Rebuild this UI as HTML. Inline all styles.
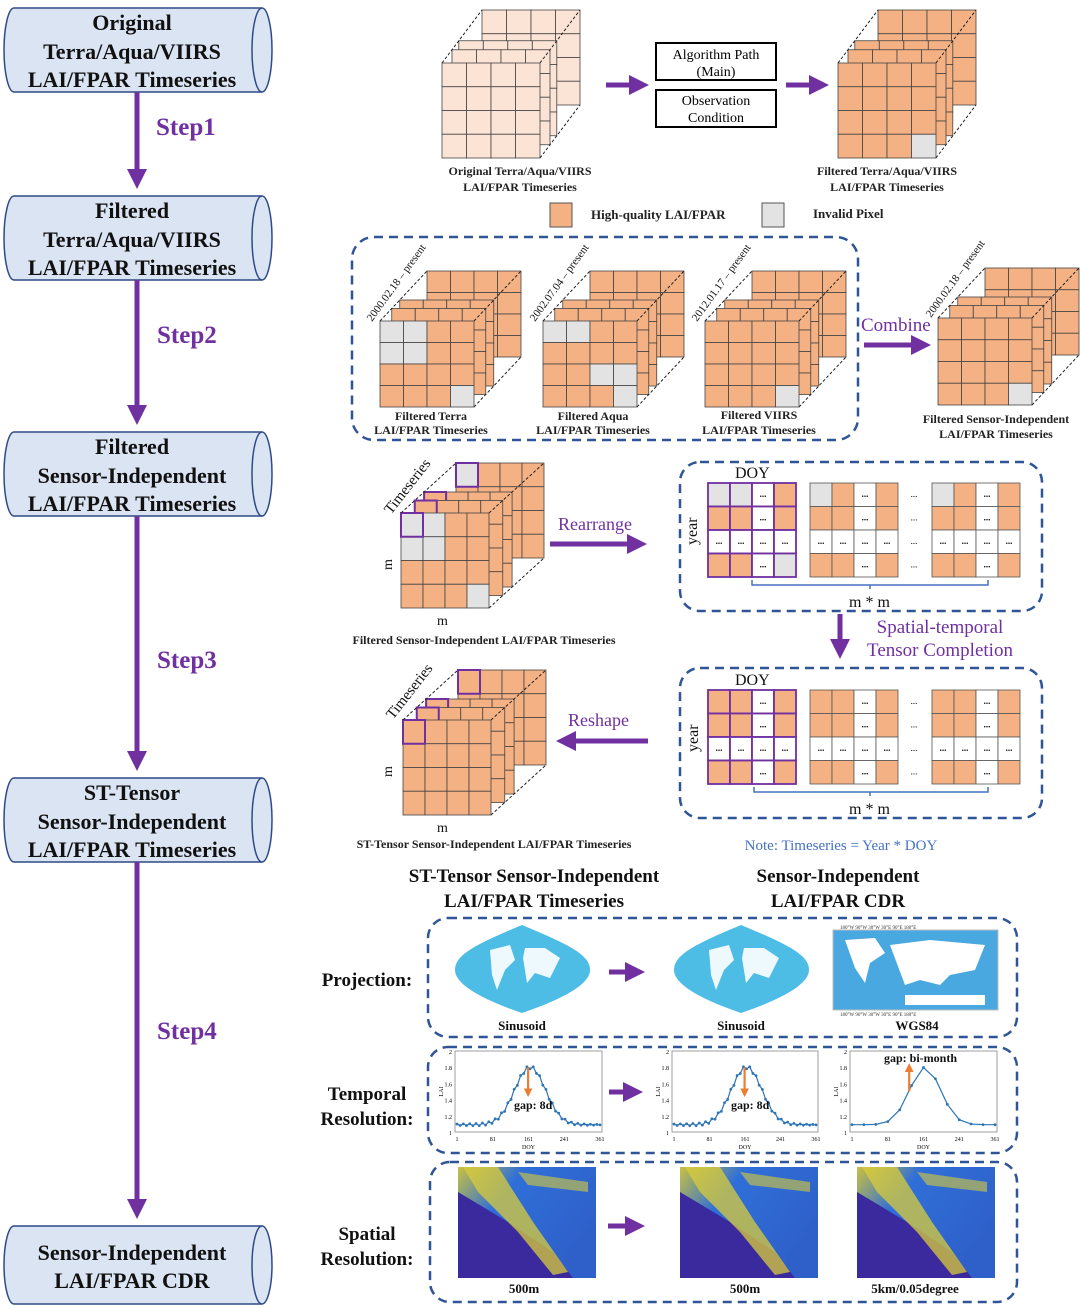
<!DOCTYPE html>
<html><head><meta charset="utf-8"><style>
html,body{margin:0;padding:0;background:#fff}
svg{display:block}
text{font-family:"Liberation Serif",serif}
</style></head><body>
<svg id="s" width="1080" height="1308" viewBox="0 0 1080 1308" xmlns="http://www.w3.org/2000/svg">
<defs>
<marker id="ap" markerWidth="4" markerHeight="4" refX="2.2" refY="2" orient="auto"><path d="M0,0 L4,2 L0,4 Z" fill="#7030a0"/></marker>
<marker id="ao" markerWidth="4" markerHeight="4" refX="2.2" refY="2" orient="auto"><path d="M0,0 L4,2 L0,4 Z" fill="#ed7d31"/></marker>
<linearGradient id="sp" x1="0" y1="0" x2="1" y2="0.6"><stop offset="0" stop-color="#c8c040"/><stop offset="0.35" stop-color="#2f6fd8"/><stop offset="1" stop-color="#2f5fc8"/></linearGradient>
</defs>
<g id="cyl"></g>
<g stroke="#7030a0" stroke-width="5" fill="none">
<line x1="137" y1="92" x2="137" y2="180" marker-end="url(#ap)"/>
<line x1="137" y1="280" x2="137" y2="416" marker-end="url(#ap)"/>
<line x1="137" y1="516" x2="137" y2="762" marker-end="url(#ap)"/>
<line x1="137" y1="862" x2="137" y2="1210" marker-end="url(#ap)"/>
</g>
<g fill="#7030a0" font-size="25">
<text x="156" y="135" font-weight="bold">Step1</text>
<text x="157" y="343" font-weight="bold">Step2</text>
<text x="157" y="668" font-weight="bold">Step3</text>
<text x="157" y="1039" font-weight="bold">Step4</text>
</g>
<g font-size="22" font-weight="bold" fill="#111" text-anchor="middle">
<text x="132" y="30">Original</text><text x="132" y="59">Terra/Aqua/VIIRS</text><text x="132" y="87">LAI/FPAR Timeseries</text>
<text x="132" y="218">Filtered</text><text x="132" y="247">Terra/Aqua/VIIRS</text><text x="132" y="275">LAI/FPAR Timeseries</text>
<text x="132" y="454">Filtered</text><text x="132" y="483">Sensor-Independent</text><text x="132" y="511">LAI/FPAR Timeseries</text>
<text x="132" y="800">ST-Tensor</text><text x="132" y="829">Sensor-Independent</text><text x="132" y="857">LAI/FPAR Timeseries</text>
<text x="132" y="1260">Sensor-Independent</text><text x="132" y="1288">LAI/FPAR CDR</text>
</g>
<g id="dyn"></g>
<rect x="656" y="43" width="120" height="37" fill="#fff" stroke="#000" stroke-width="2"/>
<rect x="656" y="90" width="120" height="37" fill="#fff" stroke="#000" stroke-width="2"/>
<g font-size="14" text-anchor="middle" fill="#000">
<text x="716" y="59">Algorithm Path</text><text x="716" y="76">(Main)</text>
<text x="716" y="105">Observation</text><text x="716" y="122">Condition</text>
</g>
<g stroke="#7030a0" stroke-width="5"><line x1="606" y1="85" x2="640" y2="85" marker-end="url(#ap)"/><line x1="786" y1="85" x2="820" y2="85" marker-end="url(#ap)"/></g>
<g font-size="12" font-weight="bold" text-anchor="middle" fill="#222">
<text x="520" y="175">Original Terra/Aqua/VIIRS</text><text x="520" y="191">LAI/FPAR Timeseries</text>
<text x="887" y="175">Filtered Terra/Aqua/VIIRS</text><text x="887" y="191">LAI/FPAR Timeseries</text>
<text x="431" y="420">Filtered Terra</text><text x="431" y="434">LAI/FPAR Timeseries</text>
<text x="593" y="420">Filtered Aqua</text><text x="593" y="434">LAI/FPAR Timeseries</text>
<text x="759" y="419">Filtered VIIRS</text><text x="759" y="434">LAI/FPAR Timeseries</text>
<text x="996" y="423">Filtered Sensor-Independent</text><text x="996" y="438">LAI/FPAR Timeseries</text>
<text x="484" y="644">Filtered Sensor-Independent LAI/FPAR Timeseries</text>
<text x="494" y="848">ST-Tensor Sensor-Independent LAI/FPAR Timeseries</text>
</g>
<rect x="550" y="203" width="22" height="24" fill="#f4b183" stroke="#555"/>
<rect x="762" y="203" width="22" height="24" fill="#e3e3e3" stroke="#555"/>
<g font-size="13" font-weight="bold" fill="#222"><text x="591" y="219">High-quality LAI/FPAR</text><text x="813" y="218">Invalid Pixel</text></g>
<rect x="352" y="237" width="506" height="203" rx="22" fill="none" stroke="#2f5597" stroke-width="2.5" stroke-dasharray="9,6"/>
<text x="861" y="331" font-size="19" fill="#7030a0">Combine</text>
<line x1="864" y1="345" x2="922" y2="345" stroke="#7030a0" stroke-width="5" marker-end="url(#ap)"/>
<g font-size="11" fill="#111">
<text transform="translate(372,322) rotate(-54)">2000.02.18 – present</text>
<text transform="translate(535,322) rotate(-54)">2002.07.04 – present</text>
<text transform="translate(697,322) rotate(-54)">2012.01.17 – present</text>
<text transform="translate(931,318) rotate(-54)">2000.02.18 – present</text>
<text transform="translate(391,515) rotate(-52)" font-size="15">Timeseries</text>
<text transform="translate(393,720) rotate(-52)" font-size="15">Timeseries</text>
</g>
<g font-size="14" fill="#111">
<text x="437" y="625">m</text><text transform="translate(392,570) rotate(-90)">m</text>
<text x="437" y="832">m</text><text transform="translate(392,777) rotate(-90)">m</text>
</g>
<rect x="680" y="462" width="362" height="149" rx="20" fill="none" stroke="#2f5597" stroke-width="2.5" stroke-dasharray="9,6"/>
<rect x="680" y="668" width="362" height="150" rx="20" fill="none" stroke="#2f5597" stroke-width="2.5" stroke-dasharray="9,6"/>
<g font-size="16" fill="#111"><text x="735" y="478">DOY</text><text x="735" y="685">DOY</text>
<text transform="translate(697,545) rotate(-90)">year</text><text transform="translate(698,752) rotate(-90)">year</text>
<text x="849" y="607">m * m</text><text x="849" y="814">m * m</text></g>
<g fill="none" stroke="#4472c4" stroke-width="1.5">
<path d="M752,580 v5 h236 v-5 M870,585 v4"/><path d="M754,787 v5 h234 v-5 M870,792 v4"/></g>
<text x="558" y="530" font-size="18" fill="#7030a0">Rearrange</text>
<line x1="550" y1="544" x2="638" y2="544" stroke="#7030a0" stroke-width="5" marker-end="url(#ap)"/>
<line x1="840" y1="614" x2="840" y2="650" stroke="#7030a0" stroke-width="5" marker-end="url(#ap)"/>
<g font-size="19" fill="#7030a0" text-anchor="middle"><text x="940" y="633">Spatial-temporal</text><text x="940" y="656">Tensor Completion</text></g>
<text x="568" y="726" font-size="18" fill="#7030a0">Reshape</text>
<line x1="648" y1="741" x2="565" y2="741" stroke="#7030a0" stroke-width="5" marker-end="url(#ap)"/>
<text x="841" y="850" font-size="15" fill="#4472c4" text-anchor="middle">Note: Timeseries = Year * DOY</text>
<g font-size="19" font-weight="bold" fill="#111" text-anchor="middle">
<text x="534" y="882">ST-Tensor Sensor-Independent</text><text x="534" y="907">LAI/FPAR Timeseries</text>
<text x="838" y="882">Sensor-Independent</text><text x="838" y="907">LAI/FPAR CDR</text>
<text x="367" y="986">Projection:</text>
<text x="367" y="1100">Temporal</text><text x="367" y="1125">Resolution:</text>
<text x="367" y="1240">Spatial</text><text x="367" y="1265">Resolution:</text>
</g>
<g fill="none" stroke="#2f5597" stroke-width="2.5" stroke-dasharray="9,6">
<rect x="428" y="918" width="589" height="119" rx="20"/>
<rect x="428" y="1047" width="589" height="106" rx="20"/>
<rect x="430" y="1162" width="587" height="140" rx="20"/>
</g>
<path d="M522,925 C570,945 590,955 590,970 C590,985 560,1000 522,1013 C484,1000 455,985 455,970 C455,955 474,945 522,925Z" fill="#4dbde6"/>
<path d="M741,925 C789,945 809,955 809,970 C809,985 779,1000 741,1013 C703,1000 674,985 674,970 C674,955 693,945 741,925Z" fill="#4dbde6"/>
<g fill="#fff" opacity="0.9">
<path d="M490,950 l20,-5 5,15 -10,10 -8,20 -5,-15z M525,948 l20,0 15,10 -10,20 -15,-5 -8,10 -4,-25z"/>
<path d="M709,950 l20,-5 5,15 -10,10 -8,20 -5,-15z M744,948 l20,0 15,10 -10,20 -15,-5 -8,10 -4,-25z"/>
</g>
<rect x="833" y="930" width="165" height="80" fill="#4aa8e0" stroke="#bbb"/>
<g fill="#fff"><path d="M845,940 l30,-2 10,15 -15,10 -5,20 -10,-15z M890,945 l40,-5 55,5 -10,25 -25,5 -10,10 -20,-5 -15,5z M905,995 h80 v10 h-80z"/></g>
<g font-size="5" fill="#333"><text x="840" y="929">180°W  90°W  30°W  30°E  90°E  180°E</text><text x="840" y="1016">180°W  90°W  30°W  30°E  90°E  180°E</text></g>
<g font-size="13" font-weight="bold" fill="#111" text-anchor="middle"><text x="522" y="1030">Sinusoid</text><text x="741" y="1030">Sinusoid</text><text x="917" y="1030">WGS84</text>
<text x="524" y="1293">500m</text><text x="745" y="1293">500m</text><text x="915" y="1293">5km/0.05degree</text></g>
<g stroke="#7030a0" stroke-width="5"><line x1="609" y1="972" x2="636" y2="972" marker-end="url(#ap)"/><line x1="609" y1="1092" x2="634" y2="1092" marker-end="url(#ap)"/><line x1="608" y1="1226" x2="636" y2="1226" marker-end="url(#ap)"/></g>
<g id="sat"></g>
<g id="charts"></g>
<g font-size="12" font-weight="bold" fill="#111"><text x="514" y="1109">gap: 8d</text><text x="731" y="1109">gap: 8d</text><text x="884" y="1062">gap: bi-month</text></g>
</svg>
<script>
const NS="http://www.w3.org/2000/svg",d=document.getElementById('dyn');
function el(t,a,p){const e=document.createElementNS(NS,t);for(const k in a)e.setAttribute(k,a[k]);(p||d).appendChild(e);return e;}
[[8,92],[196,280],[432,516],[778,862],[1226,1304]].forEach(([a,b])=>{const g=document.getElementById('cyl');
el('path',{d:`M14,${a} H262 A10,${(b-a)/2} 0 0 1 262,${b} H14 A10,${(b-a)/2} 0 0 1 14,${a}Z`,fill:'#dbe4f3',stroke:'#2f4a85','stroke-width':1.5},g);
el('path',{d:`M262,${a} A10,${(b-a)/2} 0 0 0 262,${b}`,fill:'none',stroke:'#2f4a85','stroke-width':1.5},g);});
const OR='#f4b183',GR='#e3e3e3';
function grid(x,y,w,h,fill,gr,pur){const cw=w/4,ch=h/4;
for(let r=0;r<4;r++)for(let c=0;c<4;c++){el('rect',{x:x+c*cw,y:y+r*ch,width:cw,height:ch,fill:gr.some(g=>g[0]==r&&g[1]==c)?GR:fill,stroke:'#444','stroke-width':0.8});}
if(pur)el('rect',{x:x,y:y,width:cw,height:ch,fill:'none',stroke:'#7030a0','stroke-width':2});}
function cube(x,y,w,h,dx,dy,fill,gr,pur,bgr){
[[1,bgr||[]],[0.42,[]],[0.25,[]],[0,gr]].forEach(([t,g])=>grid(x+dx*t,y+dy*t,w,h,fill,g,pur));
el('line',{x1:x,y1:y,x2:x+dx,y2:y+dy,stroke:'#222','stroke-dasharray':'3,2'});
el('line',{x1:x+w,y1:y,x2:x+w+dx,y2:y+dy,stroke:'#222','stroke-dasharray':'3,2'});
el('line',{x1:x+w,y1:y+h,x2:x+w+dx,y2:y+h+dy,stroke:'#222','stroke-dasharray':'3,2'});}
cube(442,63,98,95,40,-53,'#fbe3d5',[]);
cube(838,63,98,95,40,-53,OR,[[3,3]]);
cube(380,321,94,86,47,-50,OR,[[0,0],[0,1],[1,0],[1,1],[3,3]]);
cube(543,321,94,86,47,-50,OR,[[0,0],[0,1],[2,2],[2,3],[3,3]]);
cube(705,321,94,86,47,-50,OR,[[3,3]]);
cube(938,318,94,87,47,-50,OR,[[3,3]]);
cube(401,513,88,95,55,-50,OR,[[0,0],[0,1],[1,0],[1,1],[3,3]],true,[[0,0]]);
cube(403,720,88,95,55,-50,OR,[],true);
function mat(x,y,w,h,gr,pur){const cw=w/4,ch=h/4;
for(let r=0;r<4;r++)for(let c=0;c<4;c++){const wh=(c==2||r==2);const cx=x+c*cw,cy=y+r*ch;
el('rect',{x:cx,y:cy,width:cw,height:ch,fill:wh?'#fff':(gr.some(g=>g[0]==r&&g[1]==c)?GR:OR),stroke:pur?'#7030a0':'#555','stroke-width':pur?1.8:0.8});
if(wh){const t=el('text',{x:cx+cw/2,y:cy+ch/2+2,'font-size':9,'text-anchor':'middle','font-weight':'bold'});t.textContent='...';}}}
[[483,[[0,0],[0,1],[3,3]],[[0,0]],[[0,0]]],[690,[],[],[]]].forEach(([y,g1,g2,g3])=>{
mat(708,y,88,94,g1,true);mat(810,y,88,94,g2,false);mat(932,y,88,94,g3,false);
for(let r=0;r<4;r++){const t=el('text',{x:914,y:y+r*23.5+14,'font-size':9,'text-anchor':'middle'});t.textContent='...';}});
// satellite images
const S=document.getElementById('sat');
[458,680,857].forEach(x=>{const y=1167;
el('rect',{x:x,y:y,width:138,height:111,fill:'url(#sp)'},S);
el('path',{d:`M${x},${y+25} L${x+50},${y+55} L${x+95},${y+85} L${x+115},${y+111} L${x},${y+111}Z`,fill:'#3a2a9e'},S);
el('path',{d:`M${x+5},${y} L${x+40},${y} L${x+75},${y+55} L${x+110},${y+105} L${x+95},${y+108} L${x+60},${y+65} L${x+20},${y+25}Z`,fill:'#d9cc3a',opacity:0.75},S);
el('path',{d:`M${x+60},${y+5} L${x+130},${y+15} L${x+130},${y+25} L${x+70},${y+18}Z`,fill:'#d9cc3a',opacity:0.6},S);});
const C=document.getElementById('charts');
function chart(x,y,w,h,step,arrow,up){el('rect',{x:x,y:y,width:w,height:h,fill:'#fff',stroke:'#888','stroke-width':0.8},C);
['2','1.8','1.6','1.4','1.2','1'].forEach((v,i)=>{const t=el('text',{x:x-3,y:y+3+i*h/5,'font-size':6,'text-anchor':'end','font-family':'Liberation Sans'},C);t.textContent=v;});
['1','81','161','241','361'].forEach((v,i)=>{const t=el('text',{x:x+2+i*(w-4)/4,y:y+h+9,'font-size':6,'text-anchor':'middle','font-family':'Liberation Sans'},C);t.textContent=v;});
let t=el('text',{x:x+w/2,y:y+h+17,'font-size':6,'text-anchor':'middle','font-family':'Liberation Sans'},C);t.textContent='DOY';
t=el('text',{transform:`translate(${x-12},${y+h/2+5}) rotate(-90)`,'font-size':6,'font-family':'Liberation Sans'},C);t.textContent='LAI';
let pts=[];for(let dd=1;dd<=361;dd+=step){const v=1.09+0.71*Math.exp(-Math.pow((dd-185)/55,2))+(step<10?0.02*Math.sin(dd*0.4):0);pts.push([x+2+(dd-1)/360*(w-4),y+h-(v-1)*h]);}
el('polyline',{points:pts.map(p=>p.join(',')).join(' '),fill:'none',stroke:'#2e75b6','stroke-width':1.2},C);
pts.forEach(p=>el('circle',{cx:p[0],cy:p[1],r:1.4,fill:'#2e75b6'},C));
const ax=x+(arrow-1)/360*(w-4);
if(up)el('line',{x1:ax,y1:y+h*0.5,x2:ax,y2:y+h*0.2,stroke:'#ed7d31','stroke-width':2.2,'marker-end':'url(#ao)'},C);
else el('line',{x1:ax,y1:y+h*0.2,x2:ax,y2:y+h*0.52,stroke:'#ed7d31','stroke-width':2.2,'marker-end':'url(#ao)'},C);}
chart(455,1051,147,81,8,185,false);chart(672,1051,146,81,8,185,false);chart(850,1051,147,81,30,150,true);
</script>
</body></html>
